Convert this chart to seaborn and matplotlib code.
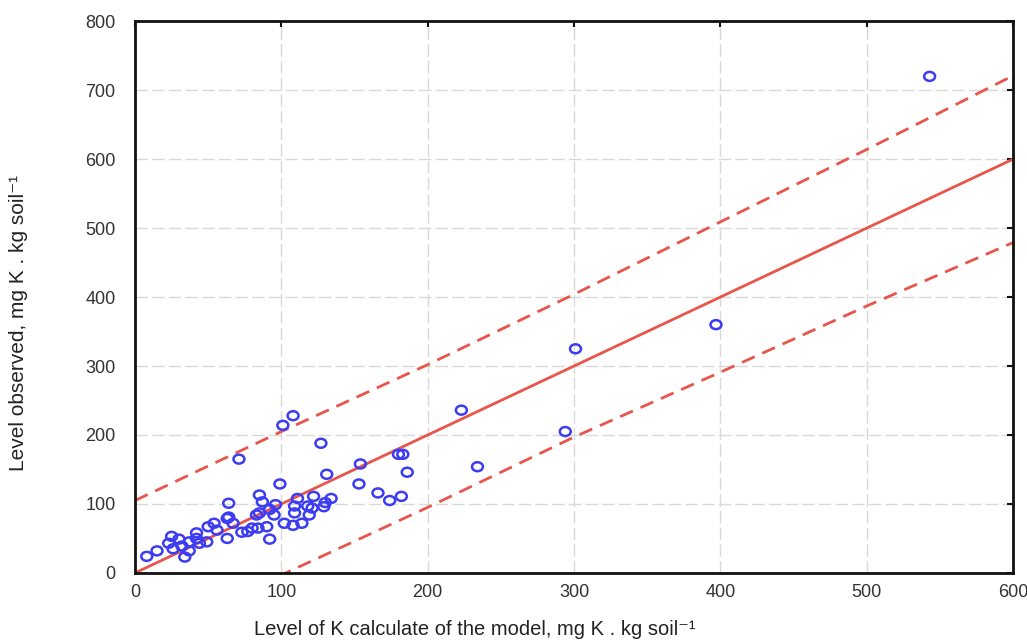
import numpy as np
import matplotlib
matplotlib.use("Agg")
import matplotlib.pyplot as plt
from matplotlib.path import Path
from matplotlib.transforms import Affine2D
import seaborn as sns

# K calculated by the model (x) vs K observed (y), mg K / kg soil
k_model = [543, 397, 301, 294, 223, 234, 180, 183, 186, 154, 153, 131, 127, 108,
           101, 99, 71, 166, 174, 182, 134, 122, 111, 129, 118, 109, 109, 119,
           114, 108, 102, 95, 85, 87, 96, 90, 92, 84, 83, 80, 121, 130, 92,
           8, 15, 25, 23, 26, 30, 32, 34, 37, 37, 42, 42, 44, 49, 50, 54, 56,
           63, 63, 64, 67, 73, 77, 64, 85]
k_observed = [720, 360, 325, 205, 236, 154, 172, 172, 146, 158, 129, 143, 188, 228,
              214, 129, 165, 116, 105, 111, 108, 111, 108, 96, 97, 97, 87, 84,
              72, 69, 72, 84, 113, 103, 99, 67, 49, 65, 84, 65, 94, 102, 92,
              24, 32, 53, 43, 35, 49, 39, 23, 32, 45, 58, 50, 43, 45, 67, 72, 62,
              50, 79, 101, 72, 59, 60, 81, 87]

# fitted line and prediction band
line_x = [0, 600]
line_y = [0, 600]
band_x = [0, 100, 200, 300, 400, 500, 600]
band_upper = [105, 205, 302, 404, 509, 614, 721]
band_lower = [-105, -3, 95, 197, 291, 387, 479]

red = "#e8554b"
blue = "#3c3cf2"

sns.set_theme(style="white")
plt.rcParams["font.family"] = ["Liberation Sans", "DejaVu Sans"]

fig, ax = plt.subplots(figsize=(10.27, 6.43), dpi=100)
fig.subplots_adjust(left=0.1315, right=0.9864, top=0.967, bottom=0.109)

ax.grid(True, color="#d9d9d9", linestyle=(0, (9, 3)), linewidth=1.0)
ax.set_axisbelow(True)

sns.lineplot(x=line_x, y=line_y, color=red, linewidth=2, ax=ax)
sns.lineplot(x=band_x, y=band_upper, color=red, linewidth=2, linestyle=(0, (5, 3)), ax=ax)
sns.lineplot(x=band_x, y=band_lower, color=red, linewidth=2, linestyle=(0, (5, 3)), ax=ax)

# slightly flattened open circle, like the original export
ellipse = Path.unit_circle().transformed(Affine2D().scale(1.0, 0.82))
sns.scatterplot(x=k_model, y=k_observed, marker=ellipse, s=62, facecolor="none",
                edgecolor=blue, linewidth=1.8, ax=ax, zorder=3)

ax.set_xlim(0, 600)
ax.set_ylim(0, 800)
ax.set_xticks(range(0, 601, 100))
ax.set_yticks(range(0, 801, 100))

for side in ["left", "right", "top", "bottom"]:
    ax.spines[side].set_color("#111111")
    ax.spines[side].set_linewidth(2)

ax.tick_params(axis="both", direction="in", length=4, width=1.5, colors="#111111",
               labelcolor="#333333", labelsize=13, top=True, right=True)
ax.tick_params(axis="x", pad=8)
ax.tick_params(axis="y", pad=14)

ax.set_xlabel("Level of K calculate of the model, mg K . kg soil\u207b\u00b9",
              fontsize=14.5, color="#222222")
ax.set_ylabel("Level observed, mg K . kg soil\u207b\u00b9", fontsize=15, color="#222222")
ax.xaxis.set_label_coords(0.387, -0.085)
ax.yaxis.set_label_coords(-0.122, 0.453)

plt.savefig("out.png", dpi=100)
